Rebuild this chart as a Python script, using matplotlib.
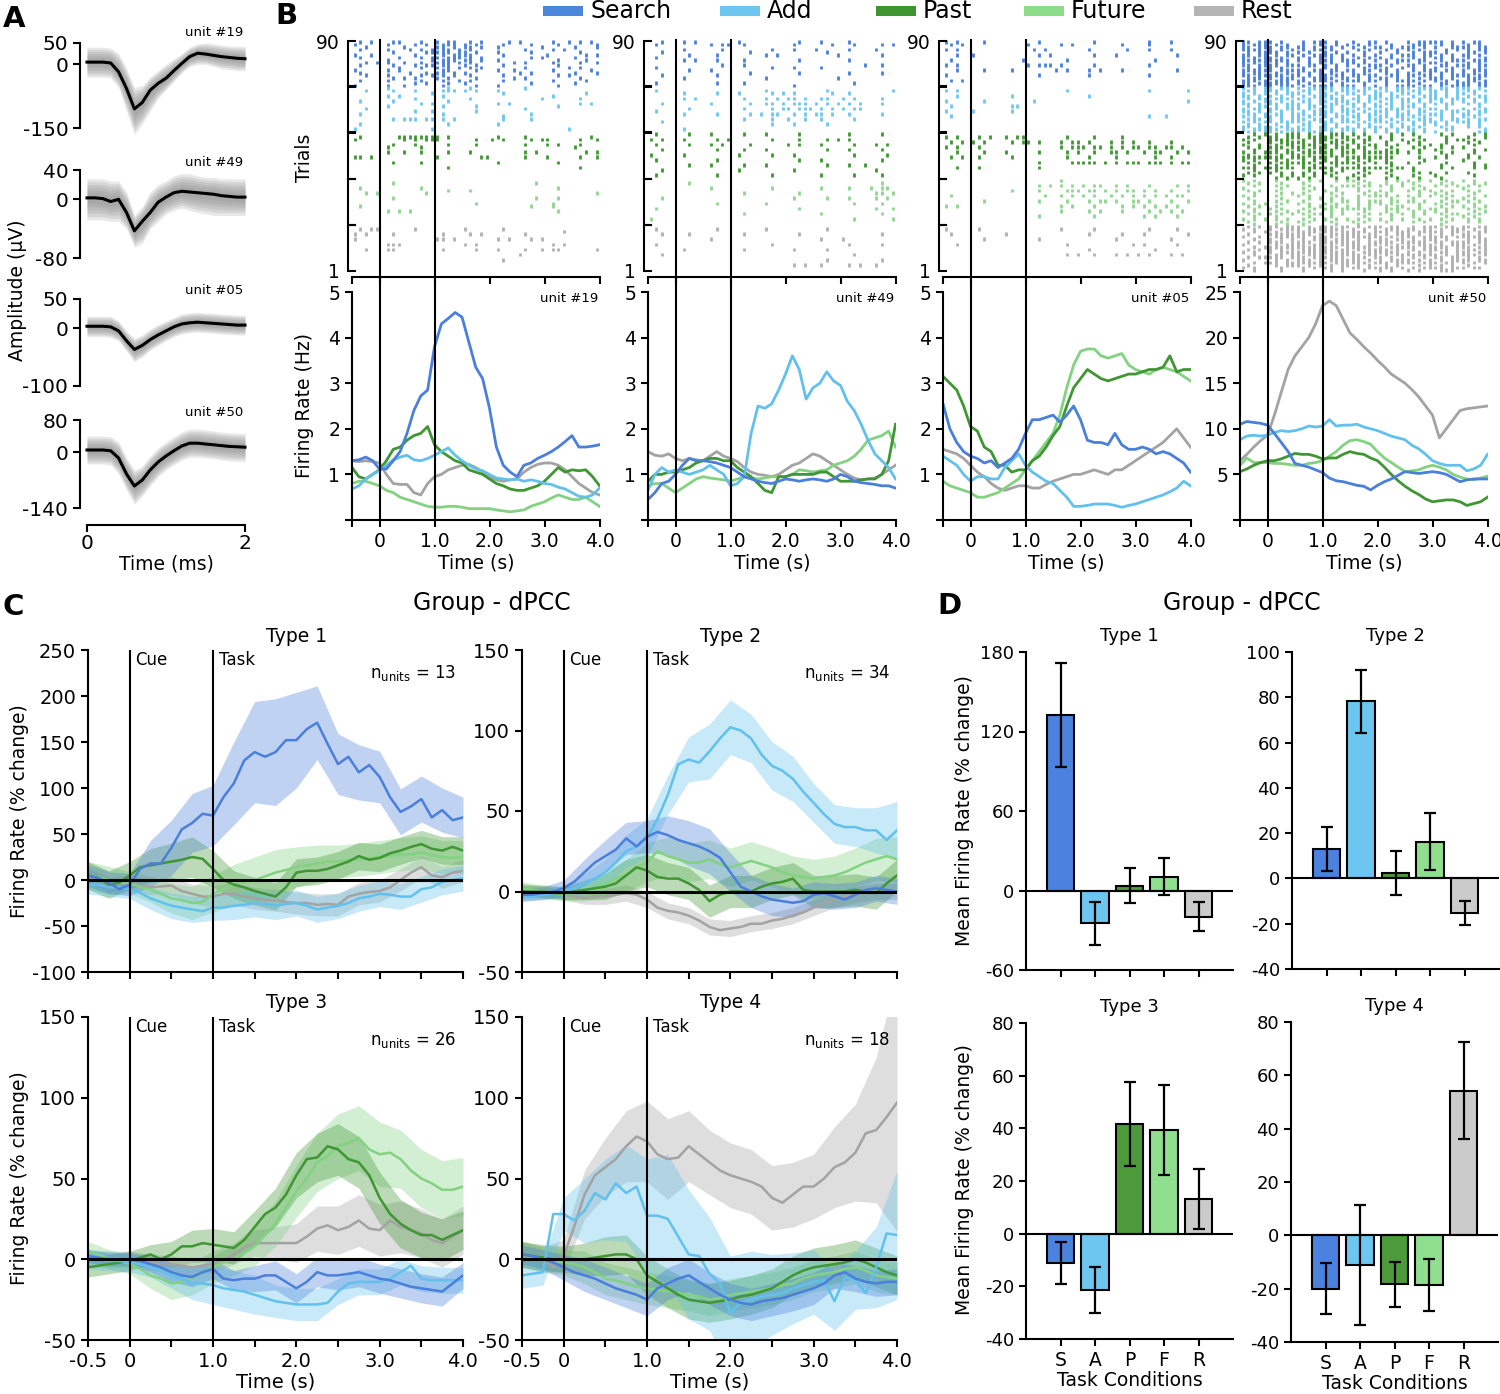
import numpy as np
import matplotlib
matplotlib.use("Agg")
import matplotlib.pyplot as plt
import matplotlib.transforms as mtrans
from matplotlib.patches import Rectangle

plt.rcParams['font.family'] = ['DejaVu Sans']
plt.rcParams['axes.linewidth'] = 1.5
plt.rcParams['xtick.major.width'] = 1.5
plt.rcParams['ytick.major.width'] = 1.5
plt.rcParams['xtick.major.size'] = 5
plt.rcParams['ytick.major.size'] = 5
plt.rcParams['mathtext.fontset'] = 'dejavusans'

# ----------------------------------------------------------------- DATA
CONDS = ['Search', 'Add', 'Past', 'Future', 'Rest']
COND_LETTERS = ['S', 'A', 'P', 'F', 'R']

# Panel A: spike waveforms (0..2 ms, 0.1 ms steps)
WF19_MEAN = [5, 5, 5, 3, -18, -57, -105, -90, -61, -45, -33, -15, 2, 18, 26, 24, 21, 18, 16, 14, 13]
WF19_HI = [40, 40, 40, 38, 25, -10, -55, -50, -30, -15, 0, 12, 25, 40, 48, 50, 48, 45, 43, 42, 42]
WF19_LO = [-30, -30, -30, -32, -55, -110, -165, -140, -110, -80, -60, -40, -20, -5, 0, 0, -5, -10, -12, -15, -15]
WF49_MEAN = [2, 2, 1, -3, 0, -18, -43, -30, -18, -4, 3, 9, 11, 10, 9, 8, 7, 5, 4, 3, 3]
WF49_HI = [28, 28, 28, 25, 25, 10, -22, -10, 10, 20, 25, 32, 35, 35, 32, 30, 30, 28, 28, 28, 28]
WF49_LO = [-28, -28, -28, -30, -30, -40, -65, -60, -40, -30, -20, -15, -12, -15, -18, -20, -22, -22, -22, -22, -22]
WF05_MEAN = [3, 3, 3, 2, -5, -22, -37, -30, -20, -12, -5, 2, 7, 9, 10, 9, 8, 7, 6, 5, 5]
WF05_HI = [20, 20, 20, 20, 12, -5, -18, -12, -2, 6, 12, 18, 24, 26, 27, 26, 25, 24, 23, 22, 22]
WF05_LO = [-15, -15, -15, -16, -22, -40, -58, -50, -38, -30, -22, -15, -10, -8, -7, -8, -9, -10, -11, -12, -12]
WF50_MEAN = [5, 5, 5, 3, -15, -55, -85, -70, -45, -25, -10, 3, 15, 22, 22, 20, 18, 16, 14, 13, 12]
WF50_HI = [40, 40, 40, 38, 25, -15, -45, -35, -10, 10, 25, 38, 50, 57, 57, 55, 53, 50, 48, 47, 46]
WF50_LO = [-30, -30, -30, -32, -55, -95, -130, -110, -85, -62, -45, -32, -20, -13, -13, -15, -17, -20, -22, -23, -24]

# Panel B: firing rates (Hz), -0.5..4.0 s in 0.125 s steps
U19 = {
    'Search': [1.30,1.32,1.38,1.30,1.12,1.12,1.30,1.50,1.90,2.40,2.72,2.85,3.80,4.30,4.42,4.55,4.45,3.90,3.35,3.10,2.45,1.60,1.20,1.05,0.95,1.20,1.25,1.35,1.42,1.50,1.60,1.72,1.85,1.60,1.60,1.62,1.65],
    'Add':    [0.68,0.75,0.90,1.00,1.08,1.20,1.32,1.38,1.42,1.32,1.30,1.35,1.42,1.50,1.58,1.42,1.30,1.20,1.12,1.08,1.00,0.92,0.90,0.88,0.90,0.85,0.88,0.85,0.80,0.78,0.72,0.68,0.60,0.52,0.50,0.55,0.70],
    'Past':   [1.15,0.95,0.90,1.00,1.10,1.30,1.55,1.60,1.75,1.85,1.90,2.05,1.65,1.50,1.40,1.30,1.25,1.10,1.05,1.00,0.90,0.80,0.75,0.68,0.65,0.65,0.70,0.75,0.85,1.00,1.15,1.05,1.10,1.08,1.10,0.95,0.75],
    'Future': [0.80,0.85,0.85,0.80,0.75,0.65,0.60,0.50,0.45,0.40,0.35,0.30,0.28,0.28,0.30,0.30,0.28,0.25,0.25,0.25,0.25,0.22,0.20,0.18,0.20,0.22,0.30,0.35,0.40,0.48,0.55,0.50,0.45,0.45,0.50,0.40,0.30],
    'Rest':   [1.30,1.28,1.30,1.28,1.25,1.00,0.80,0.78,0.78,0.60,0.55,0.80,0.95,1.00,1.10,1.15,1.20,1.22,1.15,1.05,0.95,0.88,0.85,0.88,0.90,1.05,1.15,1.22,1.25,1.25,1.20,1.10,0.95,0.80,0.70,0.60,0.55],
}
U49 = {
    'Search': [0.45,0.60,0.80,0.85,1.00,1.20,1.35,1.30,1.30,1.28,1.25,1.20,1.15,1.05,0.95,0.90,0.85,0.82,0.80,0.85,0.90,0.88,0.85,0.88,0.90,0.88,0.85,0.90,1.00,0.95,0.85,0.82,0.80,0.78,0.75,0.75,0.70],
    'Add':    [0.65,1.00,1.15,1.05,1.10,1.05,1.00,1.05,1.10,1.20,1.10,1.00,0.75,0.80,0.95,1.90,2.50,2.45,2.55,2.85,3.20,3.60,3.30,2.65,2.90,3.00,3.25,3.05,2.95,2.60,2.40,2.10,1.75,1.45,1.30,1.15,0.90],
    'Past':   [0.85,1.00,1.00,1.05,1.05,1.10,1.15,1.25,1.30,1.35,1.35,1.30,1.30,1.15,1.05,0.95,0.80,0.65,0.60,0.95,0.95,1.00,1.00,1.00,1.00,1.05,1.05,0.95,0.85,0.85,0.85,0.88,0.90,0.90,1.00,1.30,2.10],
    'Future': [0.75,0.80,0.80,0.70,0.60,0.70,0.80,0.90,0.95,0.92,0.90,0.88,0.85,0.90,0.95,0.92,0.90,0.92,0.95,0.95,0.95,1.00,1.10,1.08,1.05,1.08,1.10,1.20,1.25,1.30,1.40,1.55,1.75,1.80,1.85,1.95,1.60],
    'Rest':   [1.50,1.42,1.40,1.45,1.35,1.30,1.35,1.32,1.30,1.40,1.50,1.40,1.35,1.28,1.15,1.05,1.00,0.98,0.95,1.00,1.10,1.20,1.25,1.35,1.45,1.40,1.30,1.20,1.10,1.00,0.92,0.88,0.90,0.92,1.00,1.10,1.20],
}
U05 = {
    'Search': [2.55,2.00,1.70,1.50,1.40,1.35,1.25,1.30,1.15,1.25,1.35,1.55,1.90,2.20,2.20,2.25,2.30,2.15,2.30,2.50,2.20,1.75,1.70,1.70,1.65,1.90,1.65,1.55,1.55,1.60,1.55,1.45,1.50,1.45,1.35,1.25,1.05],
    'Add':    [1.40,1.30,1.20,1.00,0.85,0.95,0.95,0.90,0.90,1.15,1.30,1.45,1.20,1.05,0.95,0.85,0.80,0.65,0.50,0.30,0.30,0.32,0.35,0.35,0.35,0.32,0.28,0.32,0.35,0.40,0.45,0.50,0.55,0.62,0.70,0.85,0.75],
    'Past':   [3.15,3.00,2.85,2.50,2.05,1.95,1.60,1.50,1.20,1.20,1.05,1.10,1.10,1.30,1.40,1.60,1.85,2.05,2.50,2.90,3.10,3.30,3.20,3.10,3.05,3.10,3.15,3.20,3.20,3.25,3.30,3.30,3.35,3.60,3.25,3.30,3.30],
    'Future': [0.85,0.75,0.70,0.65,0.60,0.50,0.50,0.55,0.60,0.70,0.80,0.90,1.10,1.30,1.50,1.70,1.90,2.30,2.90,3.40,3.70,3.75,3.75,3.60,3.55,3.60,3.65,3.40,3.30,3.25,3.20,3.30,3.35,3.30,3.25,3.15,3.05],
    'Rest':   [1.55,1.50,1.45,1.35,1.20,1.05,0.95,0.80,0.70,0.65,0.70,0.75,0.75,0.70,0.70,0.78,0.85,0.90,0.95,1.00,1.00,1.05,1.10,1.05,1.00,1.10,1.10,1.20,1.30,1.40,1.50,1.60,1.70,1.85,2.00,1.80,1.60],
}
U50 = {
    'Search': [10.5,10.8,10.7,10.6,10.4,9.5,8.5,7.5,6.2,6.0,5.8,5.5,5.2,4.6,4.3,4.2,4.0,3.8,3.7,3.3,3.8,4.2,4.5,4.9,5.3,5.2,5.1,5.2,5.3,5.2,5.0,4.6,4.2,4.4,4.5,4.5,4.5],
    'Add':    [8.8,9.2,9.3,9.2,9.3,9.6,9.8,9.7,9.8,10.0,10.3,10.2,10.3,11.0,10.3,10.4,10.4,10.5,10.2,10.0,9.8,9.5,9.2,9.0,8.8,8.2,7.8,7.2,6.5,6.2,6.0,6.0,6.0,5.4,5.6,6.0,7.2],
    'Past':   [5.3,5.6,6.0,6.3,6.5,6.5,6.7,7.0,7.3,7.2,7.2,7.0,6.7,6.8,6.8,7.2,7.5,7.3,7.2,6.8,6.5,5.8,5.0,4.3,3.7,3.2,2.8,2.3,2.0,2.1,2.2,2.2,2.0,1.6,1.8,2.0,2.5],
    'Future': [6.0,6.8,6.3,6.3,6.3,6.2,6.2,6.1,6.0,6.0,6.2,6.3,6.5,7.0,7.5,8.2,8.7,8.8,8.6,8.3,7.5,6.8,6.3,5.8,5.3,5.4,5.5,5.8,6.0,5.8,5.5,5.0,4.7,4.5,4.4,4.6,4.8],
    'Rest':   [6.5,7.2,8.0,8.7,9.3,11.5,14.0,16.5,18.0,19.0,20.0,21.5,23.5,24.0,23.5,22.0,20.5,19.8,19.0,18.3,17.5,16.8,16.0,15.5,15.0,14.3,13.5,12.5,11.5,9.0,10.0,11.0,12.0,12.2,12.3,12.4,12.5],
}

# Panel B rasters: one string per trial (trial 90 first), 0.1 s bins from -0.5 s, '|' = spike
R19_SEARCH = [
".|.|. ..||. ..|.. |.||. .|.|. ...|. |.... .|..| .|.|.",
"|.... .|... .|.|. .|||. |.|.. ..|.. ..|.. ..|.. ....|",
"..|.. ....| ..... ||.|. ||.|. .|... ....| ..... |...|",
".|... .|... |.|.| .||.| .|... ..... .|... .|.|. .....",
"..... ..|.. ...|| |||.| |.|.. .|... ..|.. ..... .|...",
"|..|. ..... .|... .|.|| ||... ..|.. ..... |.... ..|.|",
".|... ...|. ..|.| |.||| .|.|. ..... ..|.| ..... |....",
"..... .|... ....| .|||. ||.|. .|... ..... ..|.. ..|..",
"..|.| .|..| ..|.. |||.| .|... ....| .|... .|... .|..|",
".|... ..|.. .|.|| .||.. |.|.. ..|.. ..... ..|.. .....",
"..... ...|. ..|.. |.|.| .|.|. ..... .|... ....| .|...",
"|.... .|.|. ..... .||.. ..|.. .|..| ..... .|... ...|.",
".|... ..... |..|. ||.|. |.... ..... |.|.. ..... |...|",
"..|.. .|... ..|.| .|.|. .|... ..|.. ..... ..|.| .....",
"..... ..|.| .|... |.|.. ..|.. ....| .|... ..... .|...",
".|... .|... ..|.. .|..| .|... ..|.. ..... .|... ..|..",
"..... ..... .|.|. ..|.. |.... ..... ..|.. ..... |....",
"|.... .|..| ..... .|... ..|.. .|... ..... ..|.. .....",
]
R19_ADD = [
"..... .|... ..... ..|.. .|... ..... .|... ..... .....",
"..|.. ..|.. .|... .|||. |.|.. .|... ..... ..... .....",
"..... ..... ....| ..... ..... ..|.. ..... ..... ..|..",
"..... .|.|. ..... .|... ..... ..... ..... .|... .....",
"..... ..... .|... ..... .|... ..... ....| ..... .|...",
".|... ..|.. ..... ..|.. ..... ..... ..... ..... .....",
"..... ..... ..|.| ..... ..... .|.|. ..... ..... .|.|.",
"..... .|... ..... .|... ..|.. ..... ..... ..|.. .....",
"..|.. ..... ..... ..... ..... ..... .|... ..... .....",
"..... ..... .|..| ..... ..|.. ..... ..... ..... .....",
".|... ..... ..... .|... ..... ..... ..|.. ..... .....",
"..... ..... ..... ..... ..... ..|.. ..... ..... .....",
"..... ..|.| ||.|| .|.|. ..... ..|.. ..|.. ..... .....",
"..... ..... ..... ..... ..... ..... ..... ..... .....",
".|... ..... ..... ..|.. ..... .|... ..... ..... .....",
"..... ..... ..... ..... ..... ..... ..... ..... .....",
"|.... ..... ....| ..... ..... ..... ..... ....| .....",
"..... ..... ..... ..... ..... ..... ..... ..... .....",
]
R19_PAST = [
"..... ..... ..... ..... ..... ..... ..... ..... .....",
".|... ...|| ||||| |.|.. ..... .|... .|... ..... ...|.",
"|.... ....| .|.|| |.... ..|.. |.|.. ..|.| |.... .|..|",
"..... ..... ..... ..... ..... ..... ..... ..... .....",
"..... ..|.. .|... ..|.. ..|.. ..... .|... |.|.. .|...",
"..... .|... ..|.. ..... ..... ..... ..... ..... |....",
"..... ..... ..... ..... ..... ..... ..... ..... .....",
"..... .|..| ..|.. ..|.. .|... ..... .|.|. ..... ..|.|",
"..... ..... ..... ..... ..... ..... ..... ..... .....",
"||.|. ..... ..... |.... ...|| ..... .|... |.... .|..|",
"..... ..... ..... ..... ..... ..... ..... ..... .....",
"..... ..|.. ..|.. ..... ..... .|... ..... ..|.. .....",
"..... ..... ..... ..... ..... ..... ..... ..... .....",
"..... ..... ..... ..|.. ..... ..... ..... ..... .|...",
"..... ..... ..... ..... ..... ..... ..... ..... .....",
"..... ..... ..... ..... ..... ..... ..... ..... .....",
"..... ..... ..... ..... ..... ..... ..... ..... .....",
"..... ..... ..... ..... ..... ..... ..... ..... .....",
]
R19_FUTURE = [
"..... ..... ..... ..... ..... ..... ..... ..... .....",
"..... ..|.. ..... ..... ..... ..... ...|. ..... .....",
"..... ..... ..... ..... ..... ..... ..... ..... .....",
".|... ..... ..|.. ..... ..... ..... ..... ..|.. .....",
"..... ..... ..... ..|.. .|... ..... ..... ..... .....",
"..|.| ..... ...|. ..... ..... ..... ..... ..... ....|",
"..... ..... ..... ..... ..... ..... ..... ..... .....",
"..... ..|.. ..... ..... ..... ..... ...|. ..|.. .....",
"..... ..... ..... ..... ..... ..... ..... ..... .....",
"..... ..... ..... ..... ..|.. ..... ..... .|... .....",
".|... ..... ..... ..... ..... ..... ..|.. .|... .....",
"..... ..... ..... ..... ..... ..... ..... ..... .....",
"..... .|.|. |.... ..... ..... ..... ..... ..|.. .....",
"..... ..... ..... ..... ..... ..... ..... ..... .....",
"..... ..... ..... ..... ..... ..... ..... ..... .....",
"..... ..... ..... ..... ..... ..... ..... ..... .....",
"..... ..... ..... ..... ..... ..... ..... ..... .....",
"..... ..... ..... ..... ..... ..... ..... ..... .....",
]
R19_REST = [
"..... ..... ..... ..... ..... ..... ..... ..... .....",
".|.|| ..... .|... ..... |.... ..|.. ..... ..... .....",
"..... ..... ..... ..... ..... ..... ..... ...|. .....",
"|.|.. ..|.. ..... .|... .|.|. ..... .|... ..... .....",
"..... ..... ..... ..... ..... ..... ..... ..... .....",
"|.... ..... ..... ||.|. ..... .|.|. ..|.| ..... .....",
"..... ..... ..... ..... ..... ..... ..... ..... .....",
"..... .|||. ..... ..... |.|.. ..... ..... .|.|. .....",
"..... ..... ..... ..... ..... ..... ..... ..... .....",
"..|.. .||.. ..... .|... ..|.. .|... .|..| .||.. ....|",
"..... ..... ..... ..... ..... ..... ..... ..... .....",
"..... ..... ..... ..... ..... ..... |.... ..... .....",
"..... ..... ..... ..... ..... ..... ..... ..... .....",
"..... ..... ..... ..... ..... ..|.. ..... ..... .....",
"..... ..... ..... ..... ..... ..... ..... ..... .....",
"..... ..... ..... ..... ..... ..... ..... ..... .....",
"..... ..... ..... ..... ..... ..... ..... ..... .....",
"..... ..... ..... ..... ..... ..... ..... ..... .....",
]
R49_SEARCH = [
"..|.. .|.|. ..... .|... ..... ..|.. .|... .|... .....",
".|... ..... .|.|| ..|.. ..... .|... ...|. ..|.. ..|.|",
"..... ..... ..... ..... ..... ..... ..... ..... .....",
"..... .|... ...|. ..... ..|.. .|... |.... .|... .|...",
"..|.. ..... ..... ...|. ..... ..... ..|.. ..... .....",
"..... ..|.. ..|.. ..... .|.|. ..... ....| ..... ..|..",
".|... ..... ..... ..... ..... ..... ..... ..... .....",
"..... .|.|. ..|.. ..|.. ..... ..|.. ..... .|... .....",
"..... ..... ..... ..... ..... ..... ..... ..... .....",
"..... ..... ...|. ..|.. ..... ..... ..... ....| ..|..",
".|... ..... ..... ..... ..|.. .|... .|... ..... .....",
"..... ..|.. .|... ..... ..... ..... ..... ..... .....",
"..... ..... ..... ...|. ..... ..|.. ..... .|... ..|..",
"..|.. ..... ..|.. ..... ..... ..... ..... ..... .....",
"..... .|... ..... ..... .|... ..... ....| ..... .....",
"..... ..... ..... ..... ..... ..... ..... ..... .....",
".|... ..... ..|.. ..|.. ..... ..... ..... ..|.. .....",
"..... ..... ..... ..... ..... .|... ..... ..... .....",
]
R49_ADD = [
"..... ..... ..... ..... ..... ..... ..... ..... .....",
".|... ..... ..... ..... .|... ..... ..|.. ..... ....|",
"..... .|... ..|.. .|... ..|.| .|... ...|. .|... .....",
"..... ..... ..... ..... ..... ..... ..... ..... .....",
"..... .|.|. ..... ..|.. .|.|. ||.|. .||.. |.|.. ..|..",
"..... ..... ..... ..... ..... ..... ..... ..... .....",
"..|.. ..... .|... ...|. .||.| .|||. |.|.| .|.|. ..|..",
"..... ..... ..... ..... ..... ..... ..... ..... .....",
"..... ..|.. ..... ..|.. ..|.| |.||| .|.|. |.||. .....",
".|... ..... ..... ..... ..... ..... ..... ..... .....",
"..... .|... ..|.. ...|. |.||. .|.|. ||.|. .|... ..|..",
"..... ..... ..... ..... ..... ..... ..... ..... .....",
"..... ..... ..... ..|.. ..|.. |..|. .|... ..|.. .....",
"..|.. ..... ..... ..... ..... ..... ..... ..... .....",
"..... ..... ..... ..... ..|.. .|... ..|.. ..... .....",
"..... ..... ..... ..... ..... ..... ..... ..... .....",
"..... .|... ..... ..... ..... ..... ..... ..... .....",
"..... ..... ..... ..... ..... ..... ..... ..... .....",
]
R49_PAST = [
".|... ..|.. .|... ..|.. .|... ..|.. ..... .|... ..|..",
"..... ..... ..... ..... ..... ..... ..... ..... .....",
"|.|.. .|... ..|.| ..... ..|.. ..|.. ..|.| .|... .....",
"..... ..... ..... ..... ..... ..... ..... ..... .....",
".|... ..|.. .|.|. ...|. ..... |.|.. .|... ..|.. .|.|.",
"..... ..... ..... ..... ..... ..... ..... ..... .....",
"..|.. ..... ..|.. ..|.. .|... ..... ..|.. .|... ..|..",
"..... ..... ..... ..... ..... ..... ..... ..... .....",
"|.... .|... ..... .|... ..|.. .|... ..... ..|.. ...|.",
"..... ..... ..... ..... ..... ..... ..... ..... .....",
".|... ..... ..|.. ..... ..... ..|.. .|... ..... ..|..",
"..... ..... ..... ..... ..... ..... ..... ..... .....",
"..... ..|.. .|... ..|.. .|... ..... ..|.. .|..| .....",
"..... ..... ..... ..... ..... ..... ..... ..... .....",
"..|.. ..... ..... .|... ..... .|... ..... ..... .|...",
"..... ..... ..... ..... ..... ..... ..... ..... .....",
".|... ..... ..|.. ..... ..|.. ..... .|... ..|.. ..|..",
"..... ..... ..... ..... ..... ..... ..... ..... .....",
]
R49_FUTURE = [
"..... ..... ..... ..... ..... ..... ..... ..... .....",
"..... ..|.. ..... ..... ..... ..... ..... ..... ..|..",
"..... ..... ..... ..... ..... ..... ..... ..... .....",
"..... ..... .|... ..... ..|.. ..... .|... .|... |.||.",
"..... ..... ..... ..... ..... ..... ..... ..... .....",
"..... ..... ..... ..|.. ..... ..|.. ..... ..... .||.|",
"..... ..... ..... ..... ..... ..... ..... ..... .....",
"..|.. ..... ..... ..... ..... .|... ..|.. .|... .|.|.",
"..... ..... ..... ..... ..... ..... ..... ..... .....",
"..... ..... ..|.. ..... .|... ..... ..... ..|.. ..|..",
"..... ..... ..... ..... ..... ..... ..... ..... .....",
".|... ..... ..... ..... ..... ..|.. ..... ..... .|..|",
"..... ..... ..... ..... ..... ..... ..... ..... .....",
"..... ..... ..... ..|.. ..... ..... .|... ..... ..|..",
"..... ..... ..... ..... ..... ..... ..... ..... .....",
"|.... ..... ..... ..... ..... ..... ..... ..|.. ....|",
"..... ..... ..... ..... ..... ..... ..... ..... .....",
"..... ..... ..... ..... ..... ..... ..... ..... .....",
]
R49_REST = [
"..... ..... ..... ..... ..... ..... ..... ..... .....",
".|... ..... ..|.. ..... .|... ..... ..|.. ..... .....",
"..... ..... ..... ..... ..... ..... ..... ..... .....",
"..|.. ..|.. ..... ..|.. ..... ..|.. ..... ..... ..|..",
"..... ..... ..... ..... ..... ..... ..... ..... .....",
"..... ..... .|... ..... ..... ..... .|... |.... .....",
"..... ..... ..... ..... ..... ..... ..... ..... .....",
".|... ..... ..... ..... ..|.. ..... ..... .|... ..|..",
"..... ..... ..... ..... ..... ..... ..... ..... .....",
"..... .|... ..... ..|.. ..... .|... ..|.. ..... .....",
"..... ..... ..... ..... ..... ..... ..... ..... .....",
"..|.. ..... ..... ..... ..... ..... ..... ..|.. .....",
"..... ..... ..... ..... ..... ..... ..... ..... .....",
"..... ..... ..... ..... ..... ..... ..|.. ..... ..|..",
"..... ..... ..... ..... ..... ..... ..... ..... .....",
"..... ..... ..... ..... ..... .|.|. .|... .|.|. .|...",
"..... ..... ..... ..... ..... ..... ..... ..... .....",
"..... ..... ..... ..... ..... ..... ..... ..... .....",
]
R05_SEARCH = [
"|.|.. ..|.. ..... ..|.. ..... ..|.. ..... ..|.. .|...",
".|.|. ..... ..... |.... .|.|. ..... ..|.. ..|.. .....",
"..... ..... ..... ..... ..... ..... ..... ..... .....",
"|.|.. ..... ..... .|.|. ..... .|... ...|. ..|.. .|...",
"..... ..... ..... ..... ..... ..... ..... ..... .....",
"..|.. |.... ..... ..|.| ..... ..|.. .|... ..... ..|..",
"..... ..... ..... ..... ..... ..... ..... ..... .....",
".|... ..... ....| ..... ..|.. ..... ..... ...|. .....",
"..... ..... ..... ..... ..... ..... ..... ..... .....",
"|.|.. ..... ..... |.||| .|... ..|.. ..... ..|.. .....",
"..... ..... ..... ..... ..... ..... ..... ..... .....",
"..|.. ..|.. ..|.. ..... |.|.. .|.|. ..|.. ..... ..|..",
"..... ..... ..... ..... ..... ..... ..... ..... .....",
"|.... ..... ..... ..|.. ..... .|... ..... ..|.. .....",
"..... ..... ..... ..... ..... ..... ..... ..... .....",
".|.|. ..... ..... ..... ..... ..... ..... ..... .....",
"..... ..... ..... ..... ..... ..... ..... ..... .....",
"..... ..... ..... ..... ..... ..... ..... ..... .....",
]
R05_ADD = [
"..... ..... ..... ..... ..... ..... ..... ..... .....",
"|.|.. ..... ..... ..... ..|.. ..... ..... ..|.. ....|",
"..... ..... ..... ..... ..... ..... ..... ..... .....",
"..|.. ..... ..|.. ..... ..... .|... ..... ..... .....",
"..... ..... ..... ..... ..... ..... ..... ..... .....",
"|.... ..|.. ..... .|... ..... ..... ..... ..... ....|",
"..... ..... ..... ..... ..... ..... ..... ..... .....",
".|... ..... ..||. ..... ..... ..... ..... ..... .....",
"..... ..... ..... ..... ..... ..... ..... ..... .....",
"|.... |.... ..|.. ..... ..... ..... ..... ..... .....",
"..... ..... ..... ..... ..... ..... ..... ..... .....",
".|... ..... ..... ..... ..... ..... ..... ..|.. |....",
"..... ..... ..... ..... ..... ..... ..... ..... .....",
"..... ..... ..... ..... ..... ..... ..... ..... .....",
"..... ..... ..... ..... ..... ..... ..... ..... .....",
"..... ..... ..... ..... ..... ..... ..... ..... .....",
"..... ..... ..... ..... ..... ..... ..... ..... .....",
"..... ..... ..... ..... ..... ..... ..... ..... .....",
]
R05_PAST = [
"..... ..... ..... ..... ..... ..... ..... ..... .....",
"|.|.. .|.|. .|.|| ..... ..|.. ..|.. ..|.. ..... .....",
"..... ..... ..... ..... ..... ..... ..... ..... .....",
".|.|. |.|.. ..|.| |.|.. .|.|| .|... |.|.| ..|.. .|...",
"..... ..... ..... ..... ..... ..... ..... ..... .....",
"|.|.. .|... ..... ..... .|.|| |.||. |.|.| |.||. ||.|.",
"..... ..... ..... ..... ..... ..... ..... ..... .....",
"..|.. ..|.. .|... ..|.. ..|.| ..|.. ||.|. .|.|| ..|.|",
"..... ..... ..... ..... ..... ..... ..... ..... .....",
".|.|. .|... ..|.. ..... ..|.. .|... .|... ...|. .|...",
"..... ..... ..... ..... ..... ..... ..... ..... .....",
"..... ..... ..... ..|.. ...|| |||.| .|.|| |.||| .|.||",
"..... ..... ..... ..... ..... ..... ..... ..... .....",
"..|.. .|... ..... ..|.. ..... ..... ..... ..... .....",
"..... ..... ..... ..... ..... ..... ..... ..... .....",
"..... ..... ..... ..... ..... ..... ..... ..... .....",
"..... ..... ..... ..... ..... ..... ..... ..... .....",
"..... ..... ..... ..... ..... ..... ..... ..... .....",
]
R05_FUTURE = [
"..... ..... ..... ..... .|... ..... ..... ..... .....",
"..... ..... ..... ..... ..... ..... ..... ..... .....",
"..... ..... ..... ..|.| .|.|. |.||. .|.|. ..|.. ..|.|",
"..... ..... ..... ..... ..... ..... ..... ..... .....",
"..... ..... ..|.. ..|.. ..||| .||.| .|.|| .|.|. .|..|",
"..... ..... ..... ..... ..... ..... ..... ..... .....",
".|... ..... ..... ...|. .|.|. |.|.. |.|.| .|.|. |.||.",
"..... ..... ..... ..... ..... ..... ..... ..... .....",
"..... ..|.. ..... ..|.. ..|.. .|.|| .|..| |.|.. .|..|",
"..... ..... ..... ..... ..... ..... ..... ..... .....",
"|.|.. ..... ..... ..... .|.|. ..|.. ..|.| .|.|. |.|..",
"..... ..... ..... ..... ..... ..... ..... ..... .....",
"..... ..... ..... ..... .|... .|.|. ..|.. ..|.| .|.|.",
"..... ..... ..... ..... ..... ..... ..... ..... .....",
"..... ..... ..... ..|.. ..... ..|.. ..... .|.|. ..|..",
"..... ..... ..... ..... ..... ..... ..... ..... .....",
"..... ..... ..... ..... ..... ..... ..... ..... .....",
"..... ..... ..... ..... ..... ..... ..... ..... .....",
]
R05_REST = [
"..... ..... ..... ..... ..... ..... ..... ..... .....",
"|.... .|... ..... ..... .|... ..|.. ..... ..|.. ..|..",
"..... ..... ..... ..... ..... ..... ..... ..... .....",
".|... ..... .|... ..... ..... .|... ..|.. .|... ....|",
"..... ..... ..... ..... ..... ..... ..... ..... .....",
"..... ..|.. ..... ..|.. ..... ..... .|... ..... .|...",
"..... ..... ..... ..... ..... ..... ..... ..... .....",
"..|.. ..... ..... ..... ..|.. ..... ....| .|... ..|..",
"..... ..... ..... ..... ..... ..... ..... ..... .....",
"..... ..... ..... ..... ..... .|... ..... ...|. .....",
"..... ..... ..... ..... ..... ..... ..... ..... .....",
"..... ..... ..... ..... ..|.| ..|.. .|.|. |.|.. .|.|.",
"..... ..... ..... ..... ..... ..... ..... ..... .....",
"..... ..... ..... ..... ..... ..... ..... ..... .....",
"..... ..... ..... ..... ..... ..... ..... ..... .....",
"..... ..... ..... ..... ..... ..... ..... ..... .....",
"..... ..... ..... ..... ..... ..... ..... ..... .....",
"..... ..... ..... ..... ..... ..... ..... ..... .....",
]
R50_SEARCH = [
"||.|| |.|.. .|.|| |.|.. |..|| .|... |.||| ||.|. |.||.",
"|.||| .|.|. .|..| ..|.| .|.|. ..|.. .|||. .|.|. .|.|.",
"||.|| |.||. ||.|. ||.|. |.|.| |.|.| ||.|. |..|| ||.||",
"||||. |.|.| .|.|| .|... .|.|. .|.|. |.|.. ..|.| .|.||",
".|.|| ||.|. |.|.. |.|.| ..|.. |..|. .|.|| |.|.. .||.|",
"||.|| .|.|| .|.|| ||.|. |.|.| ..|.| ||.|| .|.|. ||.|.",
"|.|.| |.|.. |.|.| .|.|. .|.|. |.|.. .|.|. ||.|. .|..|",
"||||| ||||. |.|.| ||.|| |.|.| .|.|| |.||. .|.|| |.|||",
"|.|.| .|.|. ..|.| .|..| |.|.. .|.|. ..|.| |.|.. .|.|.",
"||.|| ||.|| |.||. |.|.| .|.|| |.|.. ||.|. .||.| ||.||",
".|.|. |.|.. .|... |.|.. ..|.| .|..| .|.|. |..|. .|.|.",
"||||| |.||| ||.|| .||.| |.||. ||.|. .|.|| |.||. |.|||",
"|.||. .|.|. |.|.| .|.|. |.|.. .|.|. |.|.| .|.|. |.|.|",
"||.|| |||.| |.|.| |.||. ||.|| ..||. ||.|| .|.|| ||.||",
".|||. |.||| .|.|| ||.|| .|.|. ||.|. |.|.| ||.|. .|||.",
"|||.| .|||. ||.|| |.|.| ||.|| .|.|| ||.|. |.|.| .||.|",
"||.|| ||||. |.|.. .|.|. ..|.. .|... |.|.. .||.| ||.||",
"|||.| |.||| .|.|| ||.|| |.|.| .|.|| ||.|| .|.|| ||.||",
]
R50_ADD = [
"|.|.| |.||. |.||| ||.|| |.||. ||.|| |.||| .||.| ||.|.",
".||.| ||.|. .||.| .|.|| .||.| .|.|| .||.| |.|.| .||.|",
"|.|.| .|.|| |.|.| |.|.| |.|.| |.|.| |.|.| |.|.| |.|..",
"||.|. |.|.| .|.|| ||.|. .|.|| |.||. .|.|| |.|.| .|.||",
".|.|| .|||. |.|.| .|||. ||.|| .||.| |.|.| ||.|| |.|.|",
"|.|.| |.|.| .||.| |.||| .|.|. |.|.| |.|.| .|.|. |.|.|",
"||.|. ||.|| |.|.| .||.| |.|.| .||.| .|.|. |.||. .|.|.",
".|.|| .|.|| |.||. ||.|. |.|.| |.|.| ||.|. ..|.. ...|.",
"|.||. ||.|| |.|.| .|.|| .|.|. .|||| ..|.| |.|.. |.|.|",
"||.|. |.|.| .|.|| ||.|| |.|.| ||.|. |.||. .|.|| .|.||",
".||.| .||.| ||.|| |.|.| .|.|| .|.|| |.|.| ||.|. ||.|.",
"|.|.| |.|.| |.|.. |.||. ||.|. ||.|| .|.|. .|.|. |.|..",
".|||. |.|.| ||.|| .|.|| .|.|| |.|.| |.||| .|.|| .|.||",
"|.|.| |.||| |.|.| ||.|| |.|.| ||.|. .|.|| |.|.| ||.|.",
".|.|. .|.|. .||.. |.|.. .|.|. ..|.| .|.|. |.|.. .|.|.",
"||.|| |.||. |.|.| |.|.| .|.|| |.|.| |.|.. .|.|. .|.|.",
"|.||| ||.|| |||.| ||.|| |.|.| .|.|. ||.|. ..||. ....|",
".||.| |.|.| |.||| .|.|. |.|.| .|.|. .|.|. |.... ...||",
]
R50_PAST = [
"..|.| .|.|| |.|.| .|||. |.|.. ..|.| .|... .|.|. ..|.|",
".|.|. ||.|| |.||| ||.|| .|.|. |.|.. ..|.. ..|.. .|..|",
"|.|.. ||||. .|.|| |.|.| |.||. ..|.| .|.|. ..|.| |.|..",
".|... |.||| ||.|| .|||. |.|.. .|... |.|.. ..|.. .|.|.",
"|..|. .|.|| .|||. |.|.| .|.|| .|.|. ..|.| .|... ..|..",
".|.|. |||.| ||.|| |.||| .||.| ..|.. .|.|. .|.|. |....",
"..|.. .|.|. |.|.| .|.|. |.|.. .|.|. ..|.. |.... ..|.|",
"|.|.| ||.|| .|||| ||.|| |.||| ||||. |.|.. .|.|. ..|..",
".|... ..|.| |.|.. .|.|. ..|.. .|... ..... ..|.. .|...",
"||||| |||.| ||.|| |.|.| ||||| |||.. ..|.. |.|.. .|.|.",
"|.|.. .|.|. .|.|. |.|.| .|.|. .|... ...|. ..... |....",
".|.|. |.||| |||.| .|||| |.|.| .||.. |.|.. ..|.. ..|..",
"..|.. .|.|. .|.|. ..|.. .|... ..|.. ..... .|... ..|.|",
"|||.| ||||| .|||| ||.|| ||||| ||.|| .|... .|.|. ..|.|",
"..|.. .|... ..|.. .|.|. ..|.. ..|.. .|... ..... .....",
".|.|. |.|.| .|.|. |.|.. .|.|. .|... ..|.| ..|.. .|...",
"|.|.. ..|.| .|.|. .|... |.|.. ..|.. .|... |.... ..|..",
"..... .|.|. |.|.. ..|.| .|... .|.|. ..|.. .|... .....",
]
R50_FUTURE = [
"|.|.. .|... ..|.| ..|.| |.|.. .|.|. |.|.| ..|.. |.|..",
".|.|. ..|.. .|... ..... .|.|. .|..| .|... .|.|. ..|.|",
"..|.. .|.|. ..|.. .|.|| |.||. |.|.| ..|.. |.|.| .|.|.",
"|.... ..|.. .|.|. ..|.. .|... ..|.. .|.|. ..... |....",
".|.|. .|... ..|.. |.|.. .|.|. |.|.. |.|.| .|.|. .|.|.",
"..|.. ..|.| .|... .|.|. ..|.| .|... ..|.. |.|.. ..|..",
"|.|.. .|... |.|.. ..|.. .|.|| ||.|. |.|.| .|.|. .|..|",
".|... ..|.. ..|.| .|.|. .|... ..|.. .|... ..|.. |.|..",
"..|.. .|.|. .|... .|.|| .|.|| |.||. ||.|. .|.|| .|.|.",
"|.|.| ..|.. |.|.. |.|.. .|.|. |.|.. ..|.. |.|.. ..|..",
".|.|. .|... ..|.| .||.| .|.|. .|.|| ..|.. .|.|. |.|.|",
"..|.. |.|.. .|.|. ||.|| ||||. .|||. |.|.| |.|.. .|.|.",
"|.|.. .|.|. |.|.. .|.|. ..|.. .|.|. .|.|. |.|.. ..|.|",
".|.|. |.|.| .|.|| .|.|. .|.|. |.|.| .|.|. .|.|| .|.|.",
"..|.. .|... ..|.. .|... ..|.. ..|.. .|... ..|.. |.|..",
"|.|.| .|.|. .|.|. |.|.| .|.|. |.|.| ..|.| .|.|. .|.|.",
".|... ..|.. |.|.. .|... |.|.. .|... .|.|. ..|.. .|.|.",
"..|.. .|.|. .|... ..|.. .|... ..... ..... .|... .....",
]
R50_REST = [
".|.|. ||.|| |.|.| ||.|| .|.|| |.||. .|.|| |.||. ||.||",
"|.|.. |.||| |.||| ||||. |.|.| .|||. ||.|| .|.|| |.|.|",
"..|.| .|.|. ||||. ||.|| |||.| ||.|| |.||| ||.|| .|.||",
".|... ||||| |||.| .|||| ||.|| .|.|| |.|.| .|.|. ||.|.",
"|..|. .|||| ||.|| ||.|| ||||| |.|.| ||.|| |||.| ||||.",
"..|.. |.|.| .|.|| |.||| .|.|. ||.|| .|.|| |.|.. .|.||",
".|.|. |||.| |||.| ||||| ||.|| |||.| ||||. ||.|| ||.||",
"|.... .|.|| ||.|| .|.|| ||.|| .|.|. |.||| .|.|| |.|.|",
"..|.| ||||| ||||| |||.| ||||. |.||| ||.|| |||.| ||.||",
".|.|. |.|.| .|||| ||.|| .|.|| ||.|. .|.|| |.|.| .||.|",
"|.|.. |.||| ||||| ||||| |.||| ||||. |.|.| .||.| ||.||",
"..|.. .||.| |.||| .|||| ||.|| .|.|| ||||| |.|.| |||.|",
".|.|| |||.| ||.|| ||||. |||.| |.|.| .|.|. ||.|| .|.|.",
"|.... .|.|. |||.| .|||| ||.|. |.||| |.|.| .|.|| ||.||",
"..|.| ||.|| ||||| |.||| |||.| ||.|| ||.|| |.||. |.|.|",
".|... .|.|| |.|.| .|.|| .|.|. .|.|. ..|.| .|.|. .|...",
"|.|.. ..|.. .|.|. ||.|. ||.|| |||.| .|.|| ||.|| |.||.",
"..|.. ..|.. .|... .|.|. ..|.. |.|.. |.|.. .|||. .....",
]

# Panel C: group mean firing rate (% change); means on 0.125 s grid, SEM on 0.25 s grid
T1_MEAN = {
    'Search': [5,2,-3,-10,-5,12,18,18,35,55,62,72,70,90,105,130,139,134,139,152,152,164,171,148,126,134,117,125,112,90,74,80,88,68,76,65,68],
    'Add':    [-5,-5,-8,-8,-10,-14,-20,-24,-28,-30,-32,-34,-30,-30,-28,-27,-25,-26,-28,-26,-25,-28,-32,-30,-28,-25,-20,-18,-15,-16,-18,-18,-10,-8,-2,0,2],
    'Past':   [5,2,-5,-3,5,14,16,18,20,22,25,23,12,0,-5,-8,-12,-15,-18,-8,8,10,10,12,16,20,26,22,24,29,32,36,39,34,32,36,32],
    'Future': [5,3,0,-2,-3,-8,-10,-15,-20,-22,-25,-24,-15,-10,-5,-2,0,4,8,11,14,16,18,20,20,22,22,24,25,26,28,28,30,27,25,24,25],
    'Rest':   [5,0,-5,-4,-3,-6,-8,-7,-6,-12,-15,-18,-18,-15,-15,-18,-20,-22,-22,-24,-25,-25,-27,-26,-27,-18,-15,-13,-12,-8,0,8,14,5,3,8,10],
}
T1_SEM = {
    'Search': [12,12,12,25,30,32,33,45,55,58,52,40,33,30,28,25,25,24,22],
    'Add':    [10,10,10,12,14,14,14,15,15,15,14,14,14,14,14,14,14,14,14],
    'Past':   [15,15,15,18,20,22,20,15,15,15,15,15,15,15,15,15,15,15,15],
    'Future': [15,15,12,14,16,18,20,22,25,25,22,20,18,18,18,18,18,18,18],
    'Rest':   [8,8,8,8,10,10,12,12,12,12,12,12,12,12,12,12,12,12,12],
}
T2_MEAN = {
    'Search': [-2,-2,-1,0,2,6,12,18,22,26,33,28,34,37,35,32,30,28,25,21,12,3,0,-3,-5,-6,-7,-6,-2,-1,-3,-5,-2,1,2,1,0],
    'Add':    [-3,-3,-2,-1,0,2,5,8,12,18,25,28,33,45,60,79,82,80,87,95,102,100,95,85,78,75,70,62,55,48,42,40,40,38,38,32,38],
    'Past':   [0,0,0,-1,-1,0,1,2,3,5,10,15,13,9,8,8,5,1,-6,-2,0,0,0,3,5,6,8,1,0,0,0,0,1,0,-1,5,10],
    'Future': [2,1,0,-1,-2,-1,0,3,5,8,10,15,18,25,22,20,18,18,20,17,15,17,19,17,15,12,10,9,8,9,10,12,15,18,20,22,20],
    'Rest':   [2,1,0,-1,-2,-3,-4,-3,-3,-2,-1,-2,-5,-10,-12,-13,-15,-18,-22,-24,-23,-22,-20,-20,-18,-17,-15,-13,-10,-7,-5,-3,-2,-1,0,0,0],
}
T2_SEM = {
    'Search': [4,4,5,8,10,10,10,12,14,14,12,10,10,9,8,8,8,8,8],
    'Add':    [3,3,4,6,8,10,12,12,14,17,17,15,15,14,12,12,12,14,18],
    'Past':   [4,4,4,6,8,10,10,10,10,10,10,10,10,10,10,10,10,10,10],
    'Future': [4,4,4,6,8,10,12,12,12,12,12,12,12,12,12,12,12,13,14],
    'Rest':   [3,3,3,4,5,5,5,5,5,5,5,5,5,5,5,5,5,5,5],
}
T3_MEAN = {
    'Search': [2,1,0,0,0,-1,-3,-5,-8,-10,-11,-8,-6,-12,-13,-12,-12,-10,-10,-14,-18,-14,-8,-10,-10,-9,-8,-10,-12,-13,-15,-17,-18,-19,-20,-15,-10],
    'Add':    [0,0,-1,-1,-2,-3,-5,-7,-10,-12,-15,-15,-16,-18,-19,-20,-22,-24,-26,-27,-28,-28,-28,-27,-20,-15,-14,-14,-14,-12,-8,-4,-12,-13,-13,-13,-13],
    'Past':   [-5,-4,-3,-2,-1,1,3,0,3,8,8,10,9,8,7,12,20,28,32,40,52,62,63,70,68,62,60,52,38,28,22,18,15,15,12,15,18],
    'Future': [5,3,0,-1,-3,-6,-10,-12,-15,-14,-12,-8,-5,-2,0,4,8,15,22,32,42,50,60,64,70,72,75,68,65,66,62,55,50,47,43,43,45],
    'Rest':   [0,0,0,0,0,-1,-2,-3,-3,-4,-5,-4,-3,-1,3,7,10,10,10,10,10,14,19,21,18,20,24,19,18,24,20,18,16,12,10,14,18],
}
T3_SEM = {
    'Search': [4,4,4,5,6,6,6,6,8,9,9,9,9,9,9,9,9,9,8],
    'Add':    [6,6,6,6,8,10,12,12,12,10,10,10,8,8,8,8,8,8,8],
    'Past':   [6,6,6,6,8,10,10,10,10,12,14,15,16,16,16,15,14,13,12],
    'Future': [6,6,6,8,10,10,10,10,12,14,16,18,20,20,20,18,18,18,18],
    'Rest':   [5,5,5,5,5,5,5,6,8,10,12,14,15,16,16,16,15,15,15],
}
T4_MEAN = {
    'Search': [3,2,0,-2,-5,-8,-10,-12,-15,-18,-20,-22,-25,-18,-15,-12,-10,-14,-18,-22,-25,-27,-28,-26,-25,-24,-22,-20,-18,-15,-10,-8,-12,-14,-15,-14,-14],
    'Add':    [-10,-9,-8,28,28,24,30,41,37,47,41,45,27,27,25,14,3,2,-9,-15,-33,-27,-25,-23,-22,-21,-18,-16,-14,-13,-26,-11,-13,-21,-5,16,15],
    'Past':   [3,2,1,0,0,0,0,1,2,3,3,0,-10,-14,-18,-22,-25,-26,-27,-26,-25,-23,-22,-20,-18,-14,-10,-7,-5,-4,-3,-2,0,-2,-5,-8,-10],
    'Future': [3,2,0,-1,-2,-3,-5,-8,-12,-13,-15,-17,-18,-19,-20,-21,-22,-23,-25,-24,-22,-21,-20,-19,-18,-16,-15,-12,-10,-9,-8,-6,-5,-7,-10,-11,-12],
    'Rest':   [3,1,0,-5,2,20,40,52,57,62,70,76,73,65,62,63,70,65,60,55,52,50,48,45,38,35,40,45,45,50,57,60,66,78,80,88,97],
}
T4_SEM = {
    'Search': [6,6,8,10,10,10,10,10,10,10,10,10,10,10,10,8,8,8,8],
    'Add':    [8,8,10,20,25,30,35,40,40,35,35,30,25,22,20,18,18,25,40],
    'Past':   [8,8,8,10,12,12,12,12,12,12,12,12,12,12,12,12,12,12,12],
    'Future': [8,8,8,10,10,10,10,10,10,10,10,10,10,10,10,10,10,10,10],
    'Rest':   [8,8,10,15,18,22,25,25,22,20,20,20,20,20,20,25,30,45,80],
}
N_UNITS = [13, 34, 26, 18]

# Panel D: mean firing rate (% change) and error per condition
D1_MEAN = [132.2, -24.9, 3.5, 10.3, -19.9]
D1_ERR = [39.2, 16.0, 13.2, 14.0, 11.0]
D2_MEAN = [13.1, 78.2, 2.4, 16.3, -15.3]
D2_ERR = [9.6, 14.0, 9.5, 12.5, 5.2]
D3_MEAN = [-11.2, -21.3, 41.6, 39.5, 13.1]
D3_ERR = [8.1, 8.7, 15.9, 17.1, 11.4]
D4_MEAN = [-20.0, -11.0, -18.4, -18.75, 54.25]
D4_ERR = [9.5, 22.5, 8.4, 9.7, 18.3]

# ----------------------------------------------------------------- STYLE
LINE_C = {'Search': '#4a7fdb', 'Add': '#62c1ec', 'Past': '#3f9633', 'Future': '#82d282', 'Rest': '#a3a3a3'}
RAST_C = {'Search': '#4a7fdb', 'Add': '#6cc6ef', 'Past': '#3f9633', 'Future': '#8fd48f', 'Rest': '#b0b0b0'}
LEG_C = {'Search': '#4a86dc', 'Add': '#6cc6f0', 'Past': '#3d9431', 'Future': '#8cdc8a', 'Rest': '#b5b5b5'}
BAR_C = ['#4a82dd', '#6cc6f0', '#4c9a3a', '#8fdf8f', '#cbcbcb']
DRAW_ORDER = ['Rest', 'Future', 'Past', 'Add', 'Search']

W, H = 1500, 1394
fig = plt.figure(figsize=(W / 100, H / 100), dpi=100)


def px_axes(x0, y0, x1, y1):
    return fig.add_axes([x0 / W, 1 - y1 / H, (x1 - x0) / W, (y1 - y0) / H])


def fx(x):
    return x / W


def fy(y):
    return 1 - y / H


def clean(ax):
    ax.spines['top'].set_visible(False)
    ax.spines['right'].set_visible(False)
    ax.tick_params(direction='out')


T_GRID = np.arange(-0.5, 4.0 + 1e-9, 0.125)
T_SEM = T_GRID[::2]
WF_T = np.linspace(0, 2, 21)

# ----------------------------------------------------------------- PANEL A
wf_sets = [
    ('unit #19', WF19_MEAN, WF19_LO, WF19_HI, (-150, 50), [50, 0, -150], 43, 128, 33),
    ('unit #49', WF49_MEAN, WF49_LO, WF49_HI, (-80, 40), [40, 0, -80], 170, 258, 163),
    ('unit #05', WF05_MEAN, WF05_LO, WF05_HI, (-100, 50), [50, 0, -100], 299, 386, 291),
    ('unit #50', WF50_MEAN, WF50_LO, WF50_HI, (-140, 80), [80, 0, -140], 420, 508, 412),
]
for i, (lab, m, lo, hi, yl, yt, ytop, ybot, ylab) in enumerate(wf_sets):
    ax = px_axes(87, ytop, 245, ybot)
    clean(ax)
    ax.spines['left'].set_position(('outward', 5))
    if i < 3:
        ax.spines['bottom'].set_visible(False)
    else:
        ax.spines['bottom'].set_position(('outward', 12))
    m = np.array(m, float); lo = np.array(lo, float); hi = np.array(hi, float)
    for f in (1.0, 0.85, 0.7, 0.55, 0.4, 0.25):
        ax.fill_between(WF_T, m - f * (m - lo), m + f * (hi - m), color='#8c8c8c', alpha=0.2,
                        lw=0, clip_on=False)
    ax.plot(WF_T, m, color='black', lw=2.2, clip_on=False)
    ax.set_xlim(0, 2)
    ax.set_ylim(*yl)
    ax.set_yticks(yt)
    ax.set_yticklabels([str(v) for v in yt], fontsize=14.5)
    fig.text(fx(243), fy(ylab), lab, ha='right', va='center', fontsize=9.5)
    if i < 3:
        ax.set_xticks([])
    else:
        ax.set_xticks([0, 2])
        ax.set_xticklabels(['0', '2'], fontsize=14.5)
        ax.tick_params(axis='x', pad=2)
        ax.set_xlabel('Time (ms)', fontsize=13.5, labelpad=1)
fig.text(fx(18), fy(290), 'Amplitude (\u00b5V)', rotation=90, ha='center', va='center', fontsize=13.5)

# ----------------------------------------------------------------- PANEL B
B_LEFT = [352, 648, 943, 1240]
B_UNITS = [('unit #19', U19, 5), ('unit #49', U49, 5), ('unit #05', U05, 5), ('unit #50', U50, 25)]
B_RASTERS = [
    [R19_SEARCH, R19_ADD, R19_PAST, R19_FUTURE, R19_REST],
    [R49_SEARCH, R49_ADD, R49_PAST, R49_FUTURE, R49_REST],
    [R05_SEARCH, R05_ADD, R05_PAST, R05_FUTURE, R05_REST],
    [R50_SEARCH, R50_ADD, R50_PAST, R50_FUTURE, R50_REST],
]
xt_B = [-0.5, 0, 1, 2, 3, 4]
for k in range(4):
    x0 = B_LEFT[k]
    x1 = x0 + 247.5
    # raster
    axr = px_axes(x0, 40, x1, 277)
    clean(axr)
    axr.spines['left'].set_visible(False)
    axr.set_xlim(-0.5, 4.0)
    axr.set_ylim(-1.73, 90.77)
    for ci, cond in enumerate(CONDS):
        rows = B_RASTERS[k][ci]
        for r, row in enumerate(rows):
            s = row.replace(' ', '')[:45]
            trial = 90 - (ci * 18 + r)
            ts = [-0.5 + 0.1 * (j + 0.5) for j, ch in enumerate(s) if ch == '|']
            if ts:
                axr.vlines(ts, trial - 0.7, trial + 0.7, color=RAST_C[cond], lw=2.0)
        hi_t = 90 - ci * 18
        lo_t = hi_t - 17
        btr = mtrans.blended_transform_factory(axr.transAxes, axr.transData)
        axr.plot([0.012, -0.016, -0.016, 0.012], [lo_t - 0.3, lo_t - 0.3, hi_t + 0.4, hi_t + 0.4],
                 color='black', lw=1.5, transform=btr, clip_on=False, solid_joinstyle='miter')
    axr.set_yticks([1, 90])
    axr.set_yticklabels(['1', '90'], fontsize=13.5)
    axr.tick_params(axis='y', length=0, pad=9)
    axr.set_xticks(xt_B)
    axr.set_xticklabels([])
    for tv in (0, 1):
        axr.axvline(tv, ymin=-0.065, ymax=1, color='black', lw=1.5, clip_on=False)
    # rate
    lab, U, ymax = B_UNITS[k]
    axf = px_axes(x0, 292, x1, 520)
    clean(axf)
    for cond in DRAW_ORDER:
        axf.plot(T_GRID, U[cond], color=LINE_C[cond], lw=2.0)
    axf.set_xlim(-0.5, 4.0)
    axf.set_ylim(0, ymax)
    for tv in (0, 1):
        axf.axvline(tv, color='black', lw=1.5)
    step = ymax // 5
    yt = list(range(0, ymax + 1, step))
    axf.set_yticks(yt)
    axf.set_yticklabels([''] + [str(v) for v in yt[1:]], fontsize=13.5)
    axf.set_xticks(xt_B)
    axf.set_xticklabels(['', '0', '1.0', '2.0', '3.0', '4.0'], fontsize=13.5)
    axf.set_xlabel('Time (s)', fontsize=13.5, labelpad=2)
    fig.text(fx(x1 - 1), fy(299), lab, ha='right', va='center', fontsize=9.5)

fig.text(fx(305), fy(158), 'Trials', rotation=90, ha='center', va='center', fontsize=13.5)
fig.text(fx(305), fy(406), 'Firing Rate (Hz)', rotation=90, ha='center', va='center', fontsize=13.5)

# legend
LEG_X = [543, 720, 876, 1024, 1194]
for cond, lx in zip(CONDS, LEG_X):
    fig.add_artist(Rectangle((fx(lx), fy(16)), 40 / W, 10 / H, transform=fig.transFigure,
                             facecolor=LEG_C[cond], edgecolor='none'))
    fig.text(fx(lx + 47), fy(11), cond, ha='left', va='center', fontsize=17)

# ----------------------------------------------------------------- PANEL C
C_POS = [(88, 650, 463, 972), (522, 650, 897, 972), (88, 1017, 463, 1340), (522, 1017, 897, 1340)]
C_YLIM = [(-100, 250), (-50, 150), (-50, 150), (-50, 150)]
C_YT = [[-100, -50, 0, 50, 100, 150, 200, 250], [-50, 0, 50, 100, 150], [-50, 0, 50, 100, 150], [-50, 0, 50, 100, 150]]
C_DATA = [(T1_MEAN, T1_SEM), (T2_MEAN, T2_SEM), (T3_MEAN, T3_SEM), (T4_MEAN, T4_SEM)]
for i in range(4):
    ax = px_axes(*C_POS[i])
    clean(ax)
    means, sems = C_DATA[i]
    for cond in DRAW_ORDER:
        m = np.array(means[cond], float)
        s = np.array(sems[cond], float)
        ax.fill_between(T_SEM, m[::2] - s, m[::2] + s, color=LINE_C[cond], alpha=0.35, lw=0)
    for cond in DRAW_ORDER:
        ax.plot(T_GRID, means[cond], color=LINE_C[cond], lw=1.8)
    ax.axhline(0, color='black', lw=2.2, zorder=6)
    ax.axvline(0, color='black', lw=1.5, zorder=6)
    ax.axvline(1, color='black', lw=1.5, zorder=6)
    ax.set_xlim(-0.5, 4.0)
    ax.set_ylim(*C_YLIM[i])
    ax.set_yticks(C_YT[i])
    ax.set_yticklabels([str(v) for v in C_YT[i]], fontsize=14)
    xt = np.arange(-0.5, 4.01, 0.5)
    ax.set_xticks(xt)
    if i >= 2:
        ax.set_xticklabels(['-0.5', '0', '', '1.0', '', '2.0', '', '3.0', '', '4.0'], fontsize=14)
        ax.set_xlabel('Time (s)', fontsize=14, labelpad=1)
    else:
        ax.set_xticklabels([])
    ax.text(0.07, 0.968, 'Cue', transform=ax.get_xaxis_transform(), fontsize=12, va='center', ha='left')
    ax.text(1.07, 0.968, 'Task', transform=ax.get_xaxis_transform(), fontsize=12, va='center', ha='left')
    ax.text(3.92, 0.93, r'n$_{\mathrm{units}}$ = %d' % N_UNITS[i], transform=ax.get_xaxis_transform(),
            fontsize=12, va='center', ha='right')
    ax.text(2.0, 1.0 + 14 / 322, 'Type %d' % (i + 1), transform=ax.get_xaxis_transform(),
            fontsize=13.5, ha='center', va='center')
fig.text(fx(20), fy(811), 'Firing Rate (% change)', rotation=90, ha='center', va='center', fontsize=13.5)
fig.text(fx(20), fy(1178), 'Firing Rate (% change)', rotation=90, ha='center', va='center', fontsize=13.5)
fig.text(fx(492), fy(603), 'Group - dPCC', ha='center', va='center', fontsize=17)

# ----------------------------------------------------------------- PANEL D
D_POS = [(1026, 652, 1233, 970), (1292, 652, 1499, 969), (1026, 1023, 1233, 1339), (1291, 1022, 1498, 1342)]
D_YLIM = [(-60, 180), (-40, 100), (-40, 80), (-40, 80)]
D_YT = [[-60, 0, 60, 120, 180], [-40, -20, 0, 20, 40, 60, 80, 100], [-40, -20, 0, 20, 40, 60, 80], [-40, -20, 0, 20, 40, 60, 80]]
D_DATA = [(D1_MEAN, D1_ERR), (D2_MEAN, D2_ERR), (D3_MEAN, D3_ERR), (D4_MEAN, D4_ERR)]
for i in range(4):
    ax = px_axes(*D_POS[i])
    clean(ax)
    vals, errs = D_DATA[i]
    xs = np.arange(len(COND_LETTERS))
    ax.bar(xs, vals, width=0.8, color=BAR_C, edgecolor='black', linewidth=1.5, zorder=2)
    ax.errorbar(xs, vals, yerr=errs, fmt='none', ecolor='black', elinewidth=1.6, capsize=4.5,
                capthick=1.6, zorder=3)
    ax.axhline(0, color='black', lw=1.5, zorder=4)
    ax.set_xlim(-1, 5)
    ax.set_ylim(*D_YLIM[i])
    ax.set_yticks(D_YT[i])
    ax.set_yticklabels([str(v) for v in D_YT[i]], fontsize=13)
    ax.set_xticks(xs)
    if i >= 2:
        ax.set_xticklabels(COND_LETTERS, fontsize=13.5)
        ax.set_xlabel('Task Conditions', fontsize=13.5, labelpad=1)
    else:
        ax.set_xticklabels([])
    ax.text(2.0, 1.0 + 16 / 318, 'Type %d' % (i + 1), transform=ax.get_xaxis_transform(),
            fontsize=13, ha='center', va='center')
fig.text(fx(965), fy(811), 'Mean Firing Rate (% change)', rotation=90, ha='center', va='center', fontsize=13.5)
fig.text(fx(965), fy(1180), 'Mean Firing Rate (% change)', rotation=90, ha='center', va='center', fontsize=13.5)
fig.text(fx(1242), fy(603), 'Group - dPCC', ha='center', va='center', fontsize=17)

# ----------------------------------------------------------------- panel letters
for letter, (lx, ly) in zip('ABCD', [(3, 19), (275, 16), (2, 607), (937, 606)]):
    fig.text(fx(lx), fy(ly), letter, ha='left', va='center', fontsize=21, fontweight='bold')

fig.savefig('out.png', dpi=100)
